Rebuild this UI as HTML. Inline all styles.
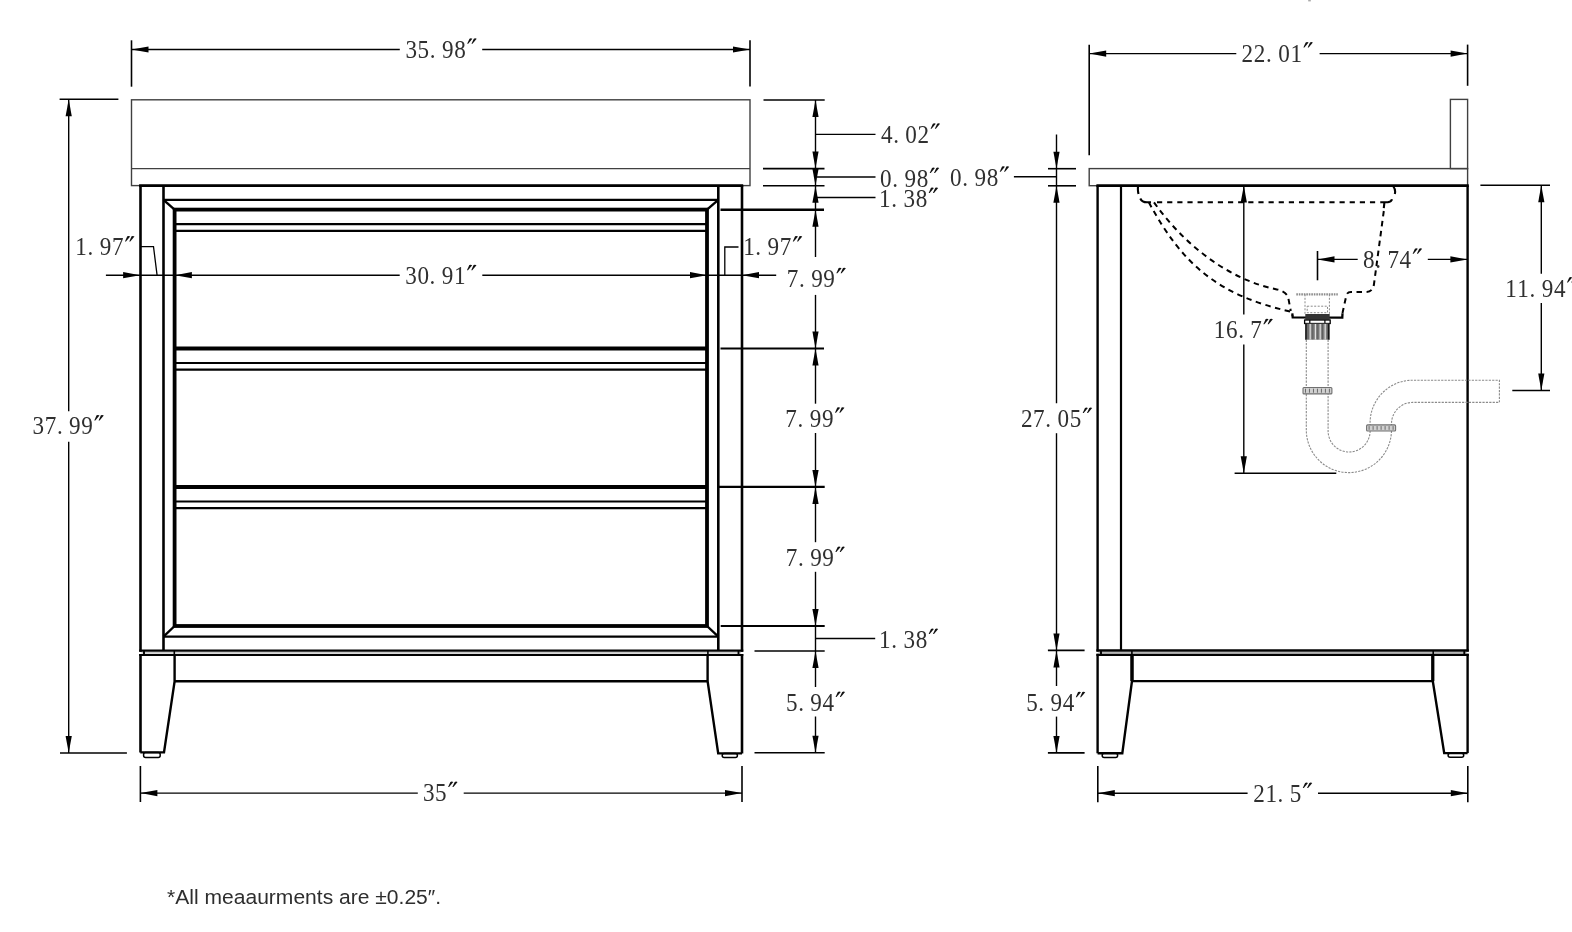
<!DOCTYPE html>
<html><head><meta charset="utf-8"><style>
html,body{margin:0;padding:0;background:#fff;width:1572px;height:932px;overflow:hidden}
svg{display:block}
.t{font-family:"Liberation Serif",serif;font-size:25.0px;fill:#303030}
.f{font-family:"Liberation Sans",sans-serif;font-size:20.5px;fill:#2e2e2e}
</style></head><body>
<svg width="1572" height="932" viewBox="0 0 1572 932">
<rect width="1572" height="932" fill="#fff"/>
<g opacity="0.999">
<rect x="131.5" y="99.8" width="618.5" height="85.8" fill="none" stroke="#404040" stroke-width="1.4"/>
<line x1="131.5" y1="168.6" x2="750" y2="168.6" stroke="#404040" stroke-width="1.4"/>
<line x1="131.5" y1="40.3" x2="131.5" y2="86.7" stroke="#000" stroke-width="1.6"/>
<line x1="750" y1="40.3" x2="750" y2="86.5" stroke="#000" stroke-width="1.6"/>
<line x1="131.5" y1="49.5" x2="399.8" y2="49.5" stroke="#000" stroke-width="1.4"/>
<line x1="482.2" y1="49.5" x2="750" y2="49.5" stroke="#000" stroke-width="1.4"/>
<polygon points="131.50,49.50 148.50,46.40 148.50,49.50 148.50,52.60" fill="#000"/>
<polygon points="750.00,49.50 733.00,46.40 733.00,49.50 733.00,52.60" fill="#000"/>
<text transform="translate(405.39,57.80) scale(0.9257,1)" class="t">3</text>
<text transform="translate(417.59,57.80) scale(0.9257,1)" class="t">5</text>
<text transform="translate(429.79,57.80) scale(0.9257,1)" class="t">.</text>
<text transform="translate(441.99,57.80) scale(0.9257,1)" class="t">9</text>
<text transform="translate(454.19,57.80) scale(0.9257,1)" class="t">8</text>
<path d="M469.49,38.70 Q470.99,37.90 472.39,38.80 L468.19,43.80 L467.19,43.80 Z" fill="#111"/>
<path d="M473.79,38.70 Q475.29,37.90 476.69,38.80 L472.49,43.80 L471.49,43.80 Z" fill="#111"/>
<line x1="59.6" y1="99.3" x2="118.4" y2="99.3" stroke="#000" stroke-width="1.6"/>
<line x1="60" y1="753" x2="126.9" y2="753" stroke="#000" stroke-width="1.6"/>
<line x1="68.7" y1="99.3" x2="68.7" y2="411.2" stroke="#000" stroke-width="1.4"/>
<line x1="68.7" y1="441.7" x2="68.7" y2="753" stroke="#000" stroke-width="1.4"/>
<polygon points="68.70,99.30 65.60,116.30 68.70,116.30 71.80,116.30" fill="#000"/>
<polygon points="68.70,753.00 65.60,736.00 68.70,736.00 71.80,736.00" fill="#000"/>
<text transform="translate(32.49,434.40) scale(0.9257,1)" class="t">3</text>
<text transform="translate(44.69,434.40) scale(0.9257,1)" class="t">7</text>
<text transform="translate(56.89,434.40) scale(0.9257,1)" class="t">.</text>
<text transform="translate(69.09,434.40) scale(0.9257,1)" class="t">9</text>
<text transform="translate(81.29,434.40) scale(0.9257,1)" class="t">9</text>
<path d="M96.59,415.30 Q98.09,414.50 99.49,415.40 L95.29,420.40 L94.29,420.40 Z" fill="#111"/>
<path d="M100.89,415.30 Q102.39,414.50 103.79,415.40 L99.59,420.40 L98.59,420.40 Z" fill="#111"/>
<line x1="140.5" y1="185.5" x2="140.5" y2="651.8" stroke="#000" stroke-width="2.6"/>
<line x1="140.5" y1="654" x2="140.5" y2="752.5" stroke="#000" stroke-width="2.6"/>
<line x1="742" y1="185.5" x2="742" y2="651.8" stroke="#000" stroke-width="2.6"/>
<line x1="742" y1="654" x2="742" y2="753.5" stroke="#000" stroke-width="2.6"/>
<line x1="139.1" y1="185.6" x2="743.2" y2="185.6" stroke="#000" stroke-width="2.6"/>
<line x1="163.5" y1="185.5" x2="163.5" y2="651" stroke="#000" stroke-width="2.6"/>
<line x1="718.3" y1="185.5" x2="718.3" y2="651" stroke="#000" stroke-width="2.6"/>
<line x1="163.5" y1="199.8" x2="718.3" y2="199.8" stroke="#000" stroke-width="2.2"/>
<line x1="163.5" y1="199.8" x2="174.6" y2="209.6" stroke="#000" stroke-width="2.4"/>
<line x1="718.3" y1="199.8" x2="707" y2="209.6" stroke="#000" stroke-width="2.4"/>
<rect x="174.6" y="209.6" width="532.4" height="416.4" fill="none" stroke="#000" stroke-width="3.8"/>
<line x1="174.6" y1="626" x2="163.5" y2="636.7" stroke="#000" stroke-width="2.4"/>
<line x1="707" y1="626" x2="718.3" y2="636.7" stroke="#000" stroke-width="2.4"/>
<line x1="163.5" y1="636.7" x2="718.3" y2="636.7" stroke="#000" stroke-width="2.2"/>
<line x1="174.6" y1="224.1" x2="707" y2="224.1" stroke="#000" stroke-width="2.2"/>
<line x1="174.6" y1="230.79999999999998" x2="707" y2="230.79999999999998" stroke="#000" stroke-width="2.2"/>
<line x1="174.6" y1="348.5" x2="707" y2="348.5" stroke="#000" stroke-width="3.8"/>
<line x1="174.6" y1="363.0" x2="707" y2="363.0" stroke="#000" stroke-width="2.2"/>
<line x1="174.6" y1="369.7" x2="707" y2="369.7" stroke="#000" stroke-width="2.2"/>
<line x1="174.6" y1="487.0" x2="707" y2="487.0" stroke="#000" stroke-width="3.8"/>
<line x1="174.6" y1="501.5" x2="707" y2="501.5" stroke="#000" stroke-width="2.2"/>
<line x1="174.6" y1="508.2" x2="707" y2="508.2" stroke="#000" stroke-width="2.2"/>
<line x1="141.5" y1="652.9" x2="741" y2="652.9" stroke="#b4b4b4" stroke-width="1.4"/>
<line x1="139.2" y1="650.6" x2="743.3" y2="650.6" stroke="#000" stroke-width="2.4"/>
<line x1="139.2" y1="655" x2="743.3" y2="655" stroke="#000" stroke-width="2.2"/>
<line x1="144" y1="650.6" x2="144" y2="655" stroke="#000" stroke-width="1.9"/>
<line x1="174.3" y1="650.6" x2="174.3" y2="655" stroke="#000" stroke-width="1.6"/>
<line x1="707.9" y1="650.6" x2="707.9" y2="655" stroke="#000" stroke-width="1.6"/>
<line x1="738.5" y1="650.6" x2="738.5" y2="655" stroke="#000" stroke-width="1.9"/>
<polyline points="140.3,752.4 164,752.4 174.6,681.4 174.6,654.6" fill="none" stroke="#000" stroke-width="2.4"/>
<polyline points="742,753.4 718.2,753.4 707.6,681.2 707.6,654.6" fill="none" stroke="#000" stroke-width="2.4"/>
<line x1="174.6" y1="681.3" x2="707.6" y2="681.3" stroke="#000" stroke-width="2.4"/>
<rect x="143.6" y="752.6" width="16.6" height="4.9" rx="2" fill="none" stroke="#000" stroke-width="1.5"/>
<rect x="722.2" y="753.6" width="15.2" height="3.9" rx="2" fill="none" stroke="#000" stroke-width="1.5"/>
<line x1="105.9" y1="275.2" x2="399.7" y2="275.2" stroke="#000" stroke-width="1.4"/>
<line x1="482.3" y1="275.2" x2="776.2" y2="275.2" stroke="#000" stroke-width="1.4"/>
<polygon points="140.10,275.20 123.10,272.10 123.10,275.20 123.10,278.30" fill="#000"/>
<polygon points="174.90,275.20 191.90,272.10 191.90,275.20 191.90,278.30" fill="#000"/>
<polygon points="707.00,275.20 690.00,272.10 690.00,275.20 690.00,278.30" fill="#000"/>
<polygon points="742.00,275.20 759.00,272.10 759.00,275.20 759.00,278.30" fill="#000"/>
<polyline points="140.1,246.6 153.5,246.6 157.1,275.3" fill="none" stroke="#000" stroke-width="1.3"/>
<polyline points="724.8,275.2 724.8,247 738.5,247" fill="none" stroke="#000" stroke-width="1.3"/>
<text transform="translate(75.37,255.40) scale(0.9257,1)" class="t">1</text>
<text transform="translate(87.57,255.40) scale(0.9257,1)" class="t">.</text>
<text transform="translate(99.77,255.40) scale(0.9257,1)" class="t">9</text>
<text transform="translate(111.97,255.40) scale(0.9257,1)" class="t">7</text>
<path d="M127.27,236.30 Q128.77,235.50 130.17,236.40 L125.97,241.40 L124.97,241.40 Z" fill="#111"/>
<path d="M131.57,236.30 Q133.07,235.50 134.47,236.40 L130.27,241.40 L129.27,241.40 Z" fill="#111"/>
<text transform="translate(405.19,284.20) scale(0.9257,1)" class="t">3</text>
<text transform="translate(417.39,284.20) scale(0.9257,1)" class="t">0</text>
<text transform="translate(429.59,284.20) scale(0.9257,1)" class="t">.</text>
<text transform="translate(441.79,284.20) scale(0.9257,1)" class="t">9</text>
<text transform="translate(453.99,284.20) scale(0.9257,1)" class="t">1</text>
<path d="M469.29,265.10 Q470.79,264.30 472.19,265.20 L467.99,270.20 L466.99,270.20 Z" fill="#111"/>
<path d="M473.59,265.10 Q475.09,264.30 476.49,265.20 L472.29,270.20 L471.29,270.20 Z" fill="#111"/>
<text transform="translate(743.17,255.40) scale(0.9257,1)" class="t">1</text>
<text transform="translate(755.37,255.40) scale(0.9257,1)" class="t">.</text>
<text transform="translate(767.57,255.40) scale(0.9257,1)" class="t">9</text>
<text transform="translate(779.77,255.40) scale(0.9257,1)" class="t">7</text>
<path d="M795.07,236.30 Q796.57,235.50 797.97,236.40 L793.77,241.40 L792.77,241.40 Z" fill="#111"/>
<path d="M799.37,236.30 Q800.87,235.50 802.27,236.40 L798.07,241.40 L797.07,241.40 Z" fill="#111"/>
<line x1="763.5" y1="100" x2="824.7" y2="100" stroke="#000" stroke-width="1.6"/>
<line x1="763" y1="168.6" x2="824.5" y2="168.6" stroke="#000" stroke-width="1.6"/>
<line x1="763" y1="185.7" x2="824.5" y2="185.7" stroke="#000" stroke-width="1.6"/>
<line x1="720.5" y1="209.8" x2="824" y2="209.8" stroke="#000" stroke-width="2.4"/>
<line x1="720.5" y1="348.5" x2="824" y2="348.5" stroke="#000" stroke-width="2.2"/>
<line x1="718.4" y1="486.9" x2="824.7" y2="486.9" stroke="#000" stroke-width="2.2"/>
<line x1="720.7" y1="626" x2="824.7" y2="626" stroke="#000" stroke-width="2.2"/>
<line x1="754.5" y1="651" x2="824.7" y2="651" stroke="#000" stroke-width="1.6"/>
<line x1="754.5" y1="752.8" x2="824.7" y2="752.8" stroke="#000" stroke-width="1.6"/>
<line x1="815.5" y1="100" x2="815.5" y2="257" stroke="#000" stroke-width="1.4"/>
<line x1="815.5" y1="294.9" x2="815.5" y2="403.7" stroke="#000" stroke-width="1.4"/>
<line x1="815.5" y1="433" x2="815.5" y2="542.2" stroke="#000" stroke-width="1.4"/>
<line x1="815.5" y1="571.8" x2="815.5" y2="687" stroke="#000" stroke-width="1.4"/>
<line x1="815.5" y1="716.5" x2="815.5" y2="752.8" stroke="#000" stroke-width="1.4"/>
<polygon points="815.50,100.00 812.40,117.00 815.50,117.00 818.60,117.00" fill="#000"/>
<polygon points="815.50,168.60 812.40,151.60 815.50,151.60 818.60,151.60" fill="#000"/>
<polygon points="815.50,185.70 812.40,168.70 815.50,168.70 818.60,168.70" fill="#000"/>
<polygon points="815.50,185.70 812.40,202.70 815.50,202.70 818.60,202.70" fill="#000"/>
<polygon points="815.50,209.80 812.40,226.80 815.50,226.80 818.60,226.80" fill="#000"/>
<polygon points="815.50,348.50 812.40,331.50 815.50,331.50 818.60,331.50" fill="#000"/>
<polygon points="815.50,348.50 812.40,365.50 815.50,365.50 818.60,365.50" fill="#000"/>
<polygon points="815.50,486.90 812.40,469.90 815.50,469.90 818.60,469.90" fill="#000"/>
<polygon points="815.50,486.90 812.40,503.90 815.50,503.90 818.60,503.90" fill="#000"/>
<polygon points="815.50,626.00 812.40,609.00 815.50,609.00 818.60,609.00" fill="#000"/>
<polygon points="815.50,651.00 812.40,668.00 815.50,668.00 818.60,668.00" fill="#000"/>
<polygon points="815.50,752.80 812.40,735.80 815.50,735.80 818.60,735.80" fill="#000"/>
<line x1="815.5" y1="134.4" x2="875.5" y2="134.4" stroke="#000" stroke-width="1.4"/>
<line x1="817" y1="177" x2="875.5" y2="177" stroke="#000" stroke-width="1.4"/>
<line x1="815.5" y1="197.5" x2="875.5" y2="197.5" stroke="#000" stroke-width="1.4"/>
<line x1="815.5" y1="638.5" x2="875.2" y2="638.5" stroke="#000" stroke-width="1.4"/>
<text transform="translate(880.95,142.80) scale(0.9257,1)" class="t">4</text>
<text transform="translate(893.15,142.80) scale(0.9257,1)" class="t">.</text>
<text transform="translate(905.35,142.80) scale(0.9257,1)" class="t">0</text>
<text transform="translate(917.55,142.80) scale(0.9257,1)" class="t">2</text>
<path d="M932.85,123.70 Q934.35,122.90 935.75,123.80 L931.55,128.80 L930.55,128.80 Z" fill="#111"/>
<path d="M937.15,123.70 Q938.65,122.90 940.05,123.80 L935.85,128.80 L934.85,128.80 Z" fill="#111"/>
<text transform="translate(880.12,187.00) scale(0.9257,1)" class="t">0</text>
<text transform="translate(892.32,187.00) scale(0.9257,1)" class="t">.</text>
<text transform="translate(904.52,187.00) scale(0.9257,1)" class="t">9</text>
<text transform="translate(916.72,187.00) scale(0.9257,1)" class="t">8</text>
<path d="M932.02,167.90 Q933.52,167.10 934.92,168.00 L930.72,173.00 L929.72,173.00 Z" fill="#111"/>
<path d="M936.32,167.90 Q937.82,167.10 939.22,168.00 L935.02,173.00 L934.02,173.00 Z" fill="#111"/>
<text transform="translate(879.07,206.90) scale(0.9257,1)" class="t">1</text>
<text transform="translate(891.27,206.90) scale(0.9257,1)" class="t">.</text>
<text transform="translate(903.47,206.90) scale(0.9257,1)" class="t">3</text>
<text transform="translate(915.67,206.90) scale(0.9257,1)" class="t">8</text>
<path d="M930.97,187.80 Q932.47,187.00 933.87,187.90 L929.67,192.90 L928.67,192.90 Z" fill="#111"/>
<path d="M935.27,187.80 Q936.77,187.00 938.17,187.90 L933.97,192.90 L932.97,192.90 Z" fill="#111"/>
<text transform="translate(786.77,287.20) scale(0.9257,1)" class="t">7</text>
<text transform="translate(798.97,287.20) scale(0.9257,1)" class="t">.</text>
<text transform="translate(811.17,287.20) scale(0.9257,1)" class="t">9</text>
<text transform="translate(823.37,287.20) scale(0.9257,1)" class="t">9</text>
<path d="M838.67,268.10 Q840.17,267.30 841.57,268.20 L837.37,273.20 L836.37,273.20 Z" fill="#111"/>
<path d="M842.97,268.10 Q844.47,267.30 845.87,268.20 L841.67,273.20 L840.67,273.20 Z" fill="#111"/>
<text transform="translate(785.37,426.70) scale(0.9257,1)" class="t">7</text>
<text transform="translate(797.57,426.70) scale(0.9257,1)" class="t">.</text>
<text transform="translate(809.77,426.70) scale(0.9257,1)" class="t">9</text>
<text transform="translate(821.97,426.70) scale(0.9257,1)" class="t">9</text>
<path d="M837.27,407.60 Q838.77,406.80 840.17,407.70 L835.97,412.70 L834.97,412.70 Z" fill="#111"/>
<path d="M841.57,407.60 Q843.07,406.80 844.47,407.70 L840.27,412.70 L839.27,412.70 Z" fill="#111"/>
<text transform="translate(785.77,566.00) scale(0.9257,1)" class="t">7</text>
<text transform="translate(797.97,566.00) scale(0.9257,1)" class="t">.</text>
<text transform="translate(810.17,566.00) scale(0.9257,1)" class="t">9</text>
<text transform="translate(822.37,566.00) scale(0.9257,1)" class="t">9</text>
<path d="M837.67,546.90 Q839.17,546.10 840.57,547.00 L836.37,552.00 L835.37,552.00 Z" fill="#111"/>
<path d="M841.97,546.90 Q843.47,546.10 844.87,547.00 L840.67,552.00 L839.67,552.00 Z" fill="#111"/>
<text transform="translate(879.07,648.00) scale(0.9257,1)" class="t">1</text>
<text transform="translate(891.27,648.00) scale(0.9257,1)" class="t">.</text>
<text transform="translate(903.47,648.00) scale(0.9257,1)" class="t">3</text>
<text transform="translate(915.67,648.00) scale(0.9257,1)" class="t">8</text>
<path d="M930.97,628.90 Q932.47,628.10 933.87,629.00 L929.67,634.00 L928.67,634.00 Z" fill="#111"/>
<path d="M935.27,628.90 Q936.77,628.10 938.17,629.00 L933.97,634.00 L932.97,634.00 Z" fill="#111"/>
<text transform="translate(785.96,711.00) scale(0.9257,1)" class="t">5</text>
<text transform="translate(798.16,711.00) scale(0.9257,1)" class="t">.</text>
<text transform="translate(810.36,711.00) scale(0.9257,1)" class="t">9</text>
<text transform="translate(822.56,711.00) scale(0.9257,1)" class="t">4</text>
<path d="M837.86,691.90 Q839.36,691.10 840.76,692.00 L836.56,697.00 L835.56,697.00 Z" fill="#111"/>
<path d="M842.16,691.90 Q843.66,691.10 845.06,692.00 L840.86,697.00 L839.86,697.00 Z" fill="#111"/>
<line x1="140.4" y1="766" x2="140.4" y2="802" stroke="#000" stroke-width="1.6"/>
<line x1="742" y1="766" x2="742" y2="802" stroke="#000" stroke-width="1.6"/>
<line x1="140.4" y1="793.1" x2="417.8" y2="793.1" stroke="#000" stroke-width="1.4"/>
<line x1="463.7" y1="793.1" x2="742" y2="793.1" stroke="#000" stroke-width="1.4"/>
<polygon points="140.40,793.10 157.40,790.00 157.40,793.10 157.40,796.20" fill="#000"/>
<polygon points="742.00,793.10 725.00,790.00 725.00,793.10 725.00,796.20" fill="#000"/>
<text transform="translate(422.89,801.00) scale(0.9257,1)" class="t">3</text>
<text transform="translate(435.09,801.00) scale(0.9257,1)" class="t">5</text>
<path d="M450.39,781.90 Q451.89,781.10 453.29,782.00 L449.09,787.00 L448.09,787.00 Z" fill="#111"/>
<path d="M454.69,781.90 Q456.19,781.10 457.59,782.00 L453.39,787.00 L452.39,787.00 Z" fill="#111"/>
<line x1="1089.2" y1="44.8" x2="1089.2" y2="155.2" stroke="#000" stroke-width="1.6"/>
<line x1="1467.6" y1="44.6" x2="1467.6" y2="85.8" stroke="#000" stroke-width="1.6"/>
<line x1="1089.2" y1="53.6" x2="1236.3" y2="53.6" stroke="#000" stroke-width="1.4"/>
<line x1="1319.6" y1="53.6" x2="1467.6" y2="53.6" stroke="#000" stroke-width="1.4"/>
<polygon points="1089.20,53.60 1106.20,50.50 1106.20,53.60 1106.20,56.70" fill="#000"/>
<polygon points="1467.60,53.60 1450.60,50.50 1450.60,53.60 1450.60,56.70" fill="#000"/>
<text transform="translate(1241.58,61.50) scale(0.9257,1)" class="t">2</text>
<text transform="translate(1253.78,61.50) scale(0.9257,1)" class="t">2</text>
<text transform="translate(1265.98,61.50) scale(0.9257,1)" class="t">.</text>
<text transform="translate(1278.18,61.50) scale(0.9257,1)" class="t">0</text>
<text transform="translate(1290.38,61.50) scale(0.9257,1)" class="t">1</text>
<path d="M1305.68,42.40 Q1307.18,41.60 1308.58,42.50 L1304.38,47.50 L1303.38,47.50 Z" fill="#111"/>
<path d="M1309.98,42.40 Q1311.48,41.60 1312.88,42.50 L1308.68,47.50 L1307.68,47.50 Z" fill="#111"/>
<rect x="1089.2" y="168.6" width="378.4" height="17.1" fill="none" stroke="#404040" stroke-width="1.4"/>
<rect x="1450.4" y="99.4" width="17.2" height="69.2" fill="none" stroke="#404040" stroke-width="1.4"/>
<line x1="1048" y1="168.7" x2="1076" y2="168.7" stroke="#000" stroke-width="1.6"/>
<line x1="1048" y1="185.8" x2="1076" y2="185.8" stroke="#000" stroke-width="1.6"/>
<line x1="1047.9" y1="650.4" x2="1084.6" y2="650.4" stroke="#000" stroke-width="1.6"/>
<line x1="1047.9" y1="752.9" x2="1084.6" y2="752.9" stroke="#000" stroke-width="1.6"/>
<line x1="1056.5" y1="134.5" x2="1056.5" y2="403.3" stroke="#000" stroke-width="1.4"/>
<line x1="1056.5" y1="433.2" x2="1056.5" y2="686" stroke="#000" stroke-width="1.4"/>
<line x1="1056.5" y1="716.6" x2="1056.5" y2="752.9" stroke="#000" stroke-width="1.4"/>
<polygon points="1056.50,168.70 1053.40,151.70 1056.50,151.70 1059.60,151.70" fill="#000"/>
<polygon points="1056.50,185.80 1053.40,202.80 1056.50,202.80 1059.60,202.80" fill="#000"/>
<polygon points="1056.50,650.40 1053.40,633.40 1056.50,633.40 1059.60,633.40" fill="#000"/>
<polygon points="1056.50,650.40 1053.40,667.40 1056.50,667.40 1059.60,667.40" fill="#000"/>
<polygon points="1056.50,752.90 1053.40,735.90 1056.50,735.90 1059.60,735.90" fill="#000"/>
<line x1="1013.9" y1="176.7" x2="1056.5" y2="176.7" stroke="#000" stroke-width="1.4"/>
<text transform="translate(950.12,185.70) scale(0.9257,1)" class="t">0</text>
<text transform="translate(962.32,185.70) scale(0.9257,1)" class="t">.</text>
<text transform="translate(974.52,185.70) scale(0.9257,1)" class="t">9</text>
<text transform="translate(986.72,185.70) scale(0.9257,1)" class="t">8</text>
<path d="M1002.02,166.60 Q1003.52,165.80 1004.92,166.70 L1000.72,171.70 L999.72,171.70 Z" fill="#111"/>
<path d="M1006.32,166.60 Q1007.82,165.80 1009.22,166.70 L1005.02,171.70 L1004.02,171.70 Z" fill="#111"/>
<text transform="translate(1020.88,427.00) scale(0.9257,1)" class="t">2</text>
<text transform="translate(1033.08,427.00) scale(0.9257,1)" class="t">7</text>
<text transform="translate(1045.28,427.00) scale(0.9257,1)" class="t">.</text>
<text transform="translate(1057.48,427.00) scale(0.9257,1)" class="t">0</text>
<text transform="translate(1069.68,427.00) scale(0.9257,1)" class="t">5</text>
<path d="M1084.98,407.90 Q1086.48,407.10 1087.88,408.00 L1083.68,413.00 L1082.68,413.00 Z" fill="#111"/>
<path d="M1089.28,407.90 Q1090.78,407.10 1092.18,408.00 L1087.98,413.00 L1086.98,413.00 Z" fill="#111"/>
<text transform="translate(1026.16,711.20) scale(0.9257,1)" class="t">5</text>
<text transform="translate(1038.36,711.20) scale(0.9257,1)" class="t">.</text>
<text transform="translate(1050.56,711.20) scale(0.9257,1)" class="t">9</text>
<text transform="translate(1062.76,711.20) scale(0.9257,1)" class="t">4</text>
<path d="M1078.06,692.10 Q1079.56,691.30 1080.96,692.20 L1076.76,697.20 L1075.76,697.20 Z" fill="#111"/>
<path d="M1082.36,692.10 Q1083.86,691.30 1085.26,692.20 L1081.06,697.20 L1080.06,697.20 Z" fill="#111"/>
<line x1="1097.6" y1="185.5" x2="1097.6" y2="651.6" stroke="#000" stroke-width="2.4"/>
<line x1="1097.6" y1="653.8" x2="1097.6" y2="753.3" stroke="#000" stroke-width="2.4"/>
<line x1="1467.6" y1="185.5" x2="1467.6" y2="651.6" stroke="#000" stroke-width="2.4"/>
<line x1="1467.6" y1="653.8" x2="1467.6" y2="753.1" stroke="#000" stroke-width="2.4"/>
<line x1="1096.4" y1="185.6" x2="1468.8" y2="185.6" stroke="#000" stroke-width="2.6"/>
<line x1="1121" y1="185.5" x2="1121" y2="650.5" stroke="#000" stroke-width="2.2"/>
<line x1="1098.5" y1="652.7" x2="1466.6" y2="652.7" stroke="#b4b4b4" stroke-width="1.4"/>
<line x1="1096.4" y1="650.5" x2="1468.8" y2="650.5" stroke="#000" stroke-width="2.4"/>
<line x1="1096.4" y1="654.8" x2="1468.8" y2="654.8" stroke="#000" stroke-width="2.2"/>
<line x1="1101" y1="650.5" x2="1101" y2="654.8" stroke="#000" stroke-width="1.9"/>
<line x1="1131.9" y1="650.5" x2="1131.9" y2="654.8" stroke="#000" stroke-width="1.6"/>
<line x1="1433.2" y1="650.5" x2="1433.2" y2="654.8" stroke="#000" stroke-width="1.6"/>
<line x1="1464.3" y1="650.5" x2="1464.3" y2="654.8" stroke="#000" stroke-width="1.9"/>
<polyline points="1097.6,753.3 1122.3,753.3 1132,681 1132,654.2" fill="none" stroke="#000" stroke-width="2.4"/>
<polyline points="1467.6,753.1 1444.2,753.1 1432.8,681.2 1432.8,654.2" fill="none" stroke="#000" stroke-width="2.4"/>
<line x1="1132" y1="654.2" x2="1132" y2="681" stroke="#000" stroke-width="3.4"/>
<line x1="1432.8" y1="654.2" x2="1432.8" y2="681.2" stroke="#000" stroke-width="3.2"/>
<line x1="1132" y1="681.1" x2="1432.8" y2="681.1" stroke="#000" stroke-width="2.4"/>
<rect x="1102.2" y="753.2" width="15.4" height="4.2" rx="2" fill="none" stroke="#000" stroke-width="1.5"/>
<rect x="1448.1" y="753.2" width="15.6" height="4.1" rx="2" fill="none" stroke="#000" stroke-width="1.5"/>
<line x1="1097.8" y1="766" x2="1097.8" y2="802.3" stroke="#000" stroke-width="1.6"/>
<line x1="1467.8" y1="766" x2="1467.8" y2="802.3" stroke="#000" stroke-width="1.6"/>
<line x1="1097.8" y1="793.2" x2="1247.6" y2="793.2" stroke="#000" stroke-width="1.4"/>
<line x1="1318" y1="793.2" x2="1467.8" y2="793.2" stroke="#000" stroke-width="1.4"/>
<polygon points="1097.80,793.20 1114.80,790.10 1114.80,793.20 1114.80,796.30" fill="#000"/>
<polygon points="1467.80,793.20 1450.80,790.10 1450.80,793.20 1450.80,796.30" fill="#000"/>
<text transform="translate(1253.18,802.00) scale(0.9257,1)" class="t">2</text>
<text transform="translate(1265.38,802.00) scale(0.9257,1)" class="t">1</text>
<text transform="translate(1277.58,802.00) scale(0.9257,1)" class="t">.</text>
<text transform="translate(1289.78,802.00) scale(0.9257,1)" class="t">5</text>
<path d="M1305.08,782.90 Q1306.58,782.10 1307.98,783.00 L1303.78,788.00 L1302.78,788.00 Z" fill="#111"/>
<path d="M1309.38,782.90 Q1310.88,782.10 1312.28,783.00 L1308.08,788.00 L1307.08,788.00 Z" fill="#111"/>
<line x1="1480.4" y1="185.3" x2="1550" y2="185.3" stroke="#000" stroke-width="1.6"/>
<line x1="1512.3" y1="390.5" x2="1550" y2="390.5" stroke="#000" stroke-width="1.6"/>
<line x1="1541.3" y1="185.3" x2="1541.3" y2="273.7" stroke="#000" stroke-width="1.4"/>
<line x1="1541.3" y1="303" x2="1541.3" y2="390.5" stroke="#000" stroke-width="1.4"/>
<polygon points="1541.30,185.30 1538.20,202.30 1541.30,202.30 1544.40,202.30" fill="#000"/>
<polygon points="1541.30,390.50 1538.20,373.50 1541.30,373.50 1544.40,373.50" fill="#000"/>
<text transform="translate(1505.17,296.60) scale(0.9257,1)" class="t">1</text>
<text transform="translate(1517.37,296.60) scale(0.9257,1)" class="t">1</text>
<text transform="translate(1529.57,296.60) scale(0.9257,1)" class="t">.</text>
<text transform="translate(1541.77,296.60) scale(0.9257,1)" class="t">9</text>
<text transform="translate(1553.97,296.60) scale(0.9257,1)" class="t">4</text>
<path d="M1569.27,277.50 Q1570.77,276.70 1572.17,277.60 L1567.97,282.60 L1566.97,282.60 Z" fill="#111"/>
<path d="M1573.57,277.50 Q1575.07,276.70 1576.47,277.60 L1572.27,282.60 L1571.27,282.60 Z" fill="#111"/>
<line x1="1243.8" y1="185.5" x2="1243.8" y2="314.5" stroke="#000" stroke-width="1.4"/>
<line x1="1243.8" y1="344.4" x2="1243.8" y2="473.3" stroke="#000" stroke-width="1.4"/>
<polygon points="1243.80,185.50 1240.70,202.50 1243.80,202.50 1246.90,202.50" fill="#000"/>
<polygon points="1243.80,473.30 1240.70,456.30 1243.80,456.30 1246.90,456.30" fill="#000"/>
<line x1="1234.6" y1="473.3" x2="1336.3" y2="473.3" stroke="#000" stroke-width="1.6"/>
<text transform="translate(1213.77,338.20) scale(0.9257,1)" class="t">1</text>
<text transform="translate(1225.97,338.20) scale(0.9257,1)" class="t">6</text>
<text transform="translate(1238.17,338.20) scale(0.9257,1)" class="t">.</text>
<text transform="translate(1250.37,338.20) scale(0.9257,1)" class="t">7</text>
<path d="M1265.67,319.10 Q1267.17,318.30 1268.57,319.20 L1264.37,324.20 L1263.37,324.20 Z" fill="#111"/>
<path d="M1269.97,319.10 Q1271.47,318.30 1272.87,319.20 L1268.67,324.20 L1267.67,324.20 Z" fill="#111"/>
<line x1="1317.5" y1="251" x2="1317.5" y2="280.3" stroke="#000" stroke-width="1.6"/>
<line x1="1317.5" y1="259.4" x2="1357.7" y2="259.4" stroke="#000" stroke-width="1.4"/>
<line x1="1427.8" y1="259.4" x2="1467.4" y2="259.4" stroke="#000" stroke-width="1.4"/>
<polygon points="1317.50,259.40 1334.50,256.30 1334.50,259.40 1334.50,262.50" fill="#000"/>
<polygon points="1467.40,259.40 1450.40,256.30 1450.40,259.40 1450.40,262.50" fill="#000"/>
<text transform="translate(1363.02,267.80) scale(0.9257,1)" class="t">8</text>
<text transform="translate(1375.22,267.80) scale(0.9257,1)" class="t">.</text>
<text transform="translate(1387.42,267.80) scale(0.9257,1)" class="t">7</text>
<text transform="translate(1399.62,267.80) scale(0.9257,1)" class="t">4</text>
<path d="M1414.92,248.70 Q1416.42,247.90 1417.82,248.80 L1413.62,253.80 L1412.62,253.80 Z" fill="#111"/>
<path d="M1419.22,248.70 Q1420.72,247.90 1422.12,248.80 L1417.92,253.80 L1416.92,253.80 Z" fill="#111"/>
<path d="M1138.1,186 Q1137.5,190 1138.5,194 M1140.3,198.5 Q1142,202.3 1147,202.3 L1151,202.3 M1380.7,202.3 L1387.8,202.3 Q1391.5,201.5 1392,199.2 M1393.1,186 Q1396,190 1394.8,194 M1384.4,202.3 L1383.8,208.2" fill="none" stroke="#000" stroke-width="2.1"/>
<path d="M1157,202.3 L1380.7,202.3" fill="none" stroke="#000" stroke-width="2.1" stroke-dasharray="5.2 4.94"/>
<path d="M1148.8,202.3 C1183.5,266.7 1219.6,295.4 1290.8,311.7 L1292.5,316" fill="none" stroke="#000" stroke-width="2" stroke-dasharray="5.5 4.5" stroke-linecap="butt"/>
<path d="M1154,202.3 C1183.7,244.4 1228.6,279.8 1276.8,289.4 Q1287,292 1288.3,298 L1290.8,311" fill="none" stroke="#000" stroke-width="2" stroke-dasharray="5.5 4.5" stroke-linecap="butt"/>
<path d="M1383.8,211 L1374,284 Q1373,292 1366,292 L1351,292 Q1346.5,292 1346,297 L1342.5,313" fill="none" stroke="#000" stroke-width="2" stroke-dasharray="5.5 4.5" stroke-linecap="butt"/>
<polyline points="1292.3,313.3 1292.7,317.4 1342.3,317.6 1342.5,313.3" fill="none" stroke="#000" stroke-width="2.3"/>
<line x1="1296.3" y1="294.3" x2="1337.8" y2="294.3" stroke="#8c8c8c" stroke-width="2.2" stroke-dasharray="1.6 0.9"/>
<line x1="1305" y1="294.3" x2="1305" y2="314" stroke="#8a8a8a" stroke-width="1" stroke-dasharray="2 1.5"/>
<line x1="1329.4" y1="294.3" x2="1329.4" y2="314" stroke="#8a8a8a" stroke-width="1" stroke-dasharray="2 1.5"/>
<rect x="1307.2" y="306.2" width="20.3" height="6.5" fill="none" stroke="#8a8a8a" stroke-width="1" stroke-dasharray="2 1.5"/>
<rect x="1305.3" y="314" width="24.4" height="5.7" fill="#333"/>
<rect x="1304.6" y="320" width="25.6" height="3.5" fill="#fff" stroke="#000" stroke-width="1.3"/>
<line x1="1309.8" y1="320" x2="1309.8" y2="323.5" stroke="#000" stroke-width="1.2"/>
<line x1="1324.9" y1="320" x2="1324.9" y2="323.5" stroke="#000" stroke-width="1.2"/>
<rect x="1305.3" y="323.6" width="24.1" height="16.1" fill="#808080"/>
<line x1="1310.2" y1="324" x2="1310.2" y2="339.5" stroke="#e6e6e6" stroke-width="1.1"/>
<line x1="1315.4" y1="324" x2="1315.4" y2="339.5" stroke="#e6e6e6" stroke-width="1.1"/>
<line x1="1320.2" y1="324" x2="1320.2" y2="339.5" stroke="#e6e6e6" stroke-width="1.1"/>
<line x1="1325.2" y1="324" x2="1325.2" y2="339.5" stroke="#e6e6e6" stroke-width="1.1"/>
<line x1="1308" y1="324" x2="1308" y2="339.5" stroke="#505050" stroke-width="0.8"/>
<line x1="1312.8" y1="324" x2="1312.8" y2="339.5" stroke="#505050" stroke-width="0.8"/>
<line x1="1317.8" y1="324" x2="1317.8" y2="339.5" stroke="#505050" stroke-width="0.8"/>
<line x1="1322.6" y1="324" x2="1322.6" y2="339.5" stroke="#505050" stroke-width="0.8"/>
<line x1="1327.4" y1="324" x2="1327.4" y2="339.5" stroke="#505050" stroke-width="0.8"/>
<line x1="1306" y1="323.6" x2="1306" y2="339.7" stroke="#111" stroke-width="1.5"/>
<line x1="1328.8" y1="323.6" x2="1328.8" y2="339.7" stroke="#111" stroke-width="1.5"/>
<path d="M1306.3,339.7 L1306.3,387.5 M1328.1,339.7 L1328.1,387.5 M1306.3,394 L1306.3,430 A42.6,42.6 0 0 0 1391.5,430 L1391.5,424 A21.3,21.3 0 0 1 1412.8,402.4 L1499.4,402.4 L1499.4,380.2 L1412.8,380.2 A42.7,42.7 0 0 0 1370.1,424 L1370.1,431 A21,21 0 0 1 1328.1,431 L1328.1,394" fill="none" stroke="#8a8a8a" stroke-width="1.1" stroke-dasharray="2.2 1.2"/>
<rect x="1303" y="387.5" width="28.9" height="6.4" rx="1" fill="#d0d0d0" stroke="#707070" stroke-width="1.1"/>
<line x1="1305.5" y1="388.7" x2="1305.5" y2="392.7" stroke="#6a6a6a" stroke-width="1.0"/>
<line x1="1309.48" y1="388.7" x2="1309.48" y2="392.7" stroke="#6a6a6a" stroke-width="1.0"/>
<line x1="1313.47" y1="388.7" x2="1313.47" y2="392.7" stroke="#6a6a6a" stroke-width="1.0"/>
<line x1="1317.45" y1="388.7" x2="1317.45" y2="392.7" stroke="#6a6a6a" stroke-width="1.0"/>
<line x1="1321.43" y1="388.7" x2="1321.43" y2="392.7" stroke="#6a6a6a" stroke-width="1.0"/>
<line x1="1325.42" y1="388.7" x2="1325.42" y2="392.7" stroke="#6a6a6a" stroke-width="1.0"/>
<line x1="1329.4" y1="388.7" x2="1329.4" y2="392.7" stroke="#6a6a6a" stroke-width="1.0"/>
<rect x="1366.6" y="424.9" width="29" height="6.1" rx="1" fill="#d0d0d0" stroke="#707070" stroke-width="1.1"/>
<line x1="1369.1" y1="426.09999999999997" x2="1369.1" y2="429.8" stroke="#6a6a6a" stroke-width="1.0"/>
<line x1="1373.1" y1="426.09999999999997" x2="1373.1" y2="429.8" stroke="#6a6a6a" stroke-width="1.0"/>
<line x1="1377.1" y1="426.09999999999997" x2="1377.1" y2="429.8" stroke="#6a6a6a" stroke-width="1.0"/>
<line x1="1381.1" y1="426.09999999999997" x2="1381.1" y2="429.8" stroke="#6a6a6a" stroke-width="1.0"/>
<line x1="1385.1" y1="426.09999999999997" x2="1385.1" y2="429.8" stroke="#6a6a6a" stroke-width="1.0"/>
<line x1="1389.1" y1="426.09999999999997" x2="1389.1" y2="429.8" stroke="#6a6a6a" stroke-width="1.0"/>
<line x1="1393.1" y1="426.09999999999997" x2="1393.1" y2="429.8" stroke="#6a6a6a" stroke-width="1.0"/>
<text x="167.1" y="904" class="f" textLength="274" lengthAdjust="spacingAndGlyphs">*All meaaurments are ±0.25″.</text>
<rect x="1308.2" y="0" width="2.6" height="1.4" fill="#aaa"/>
</g>
</svg></body></html>
